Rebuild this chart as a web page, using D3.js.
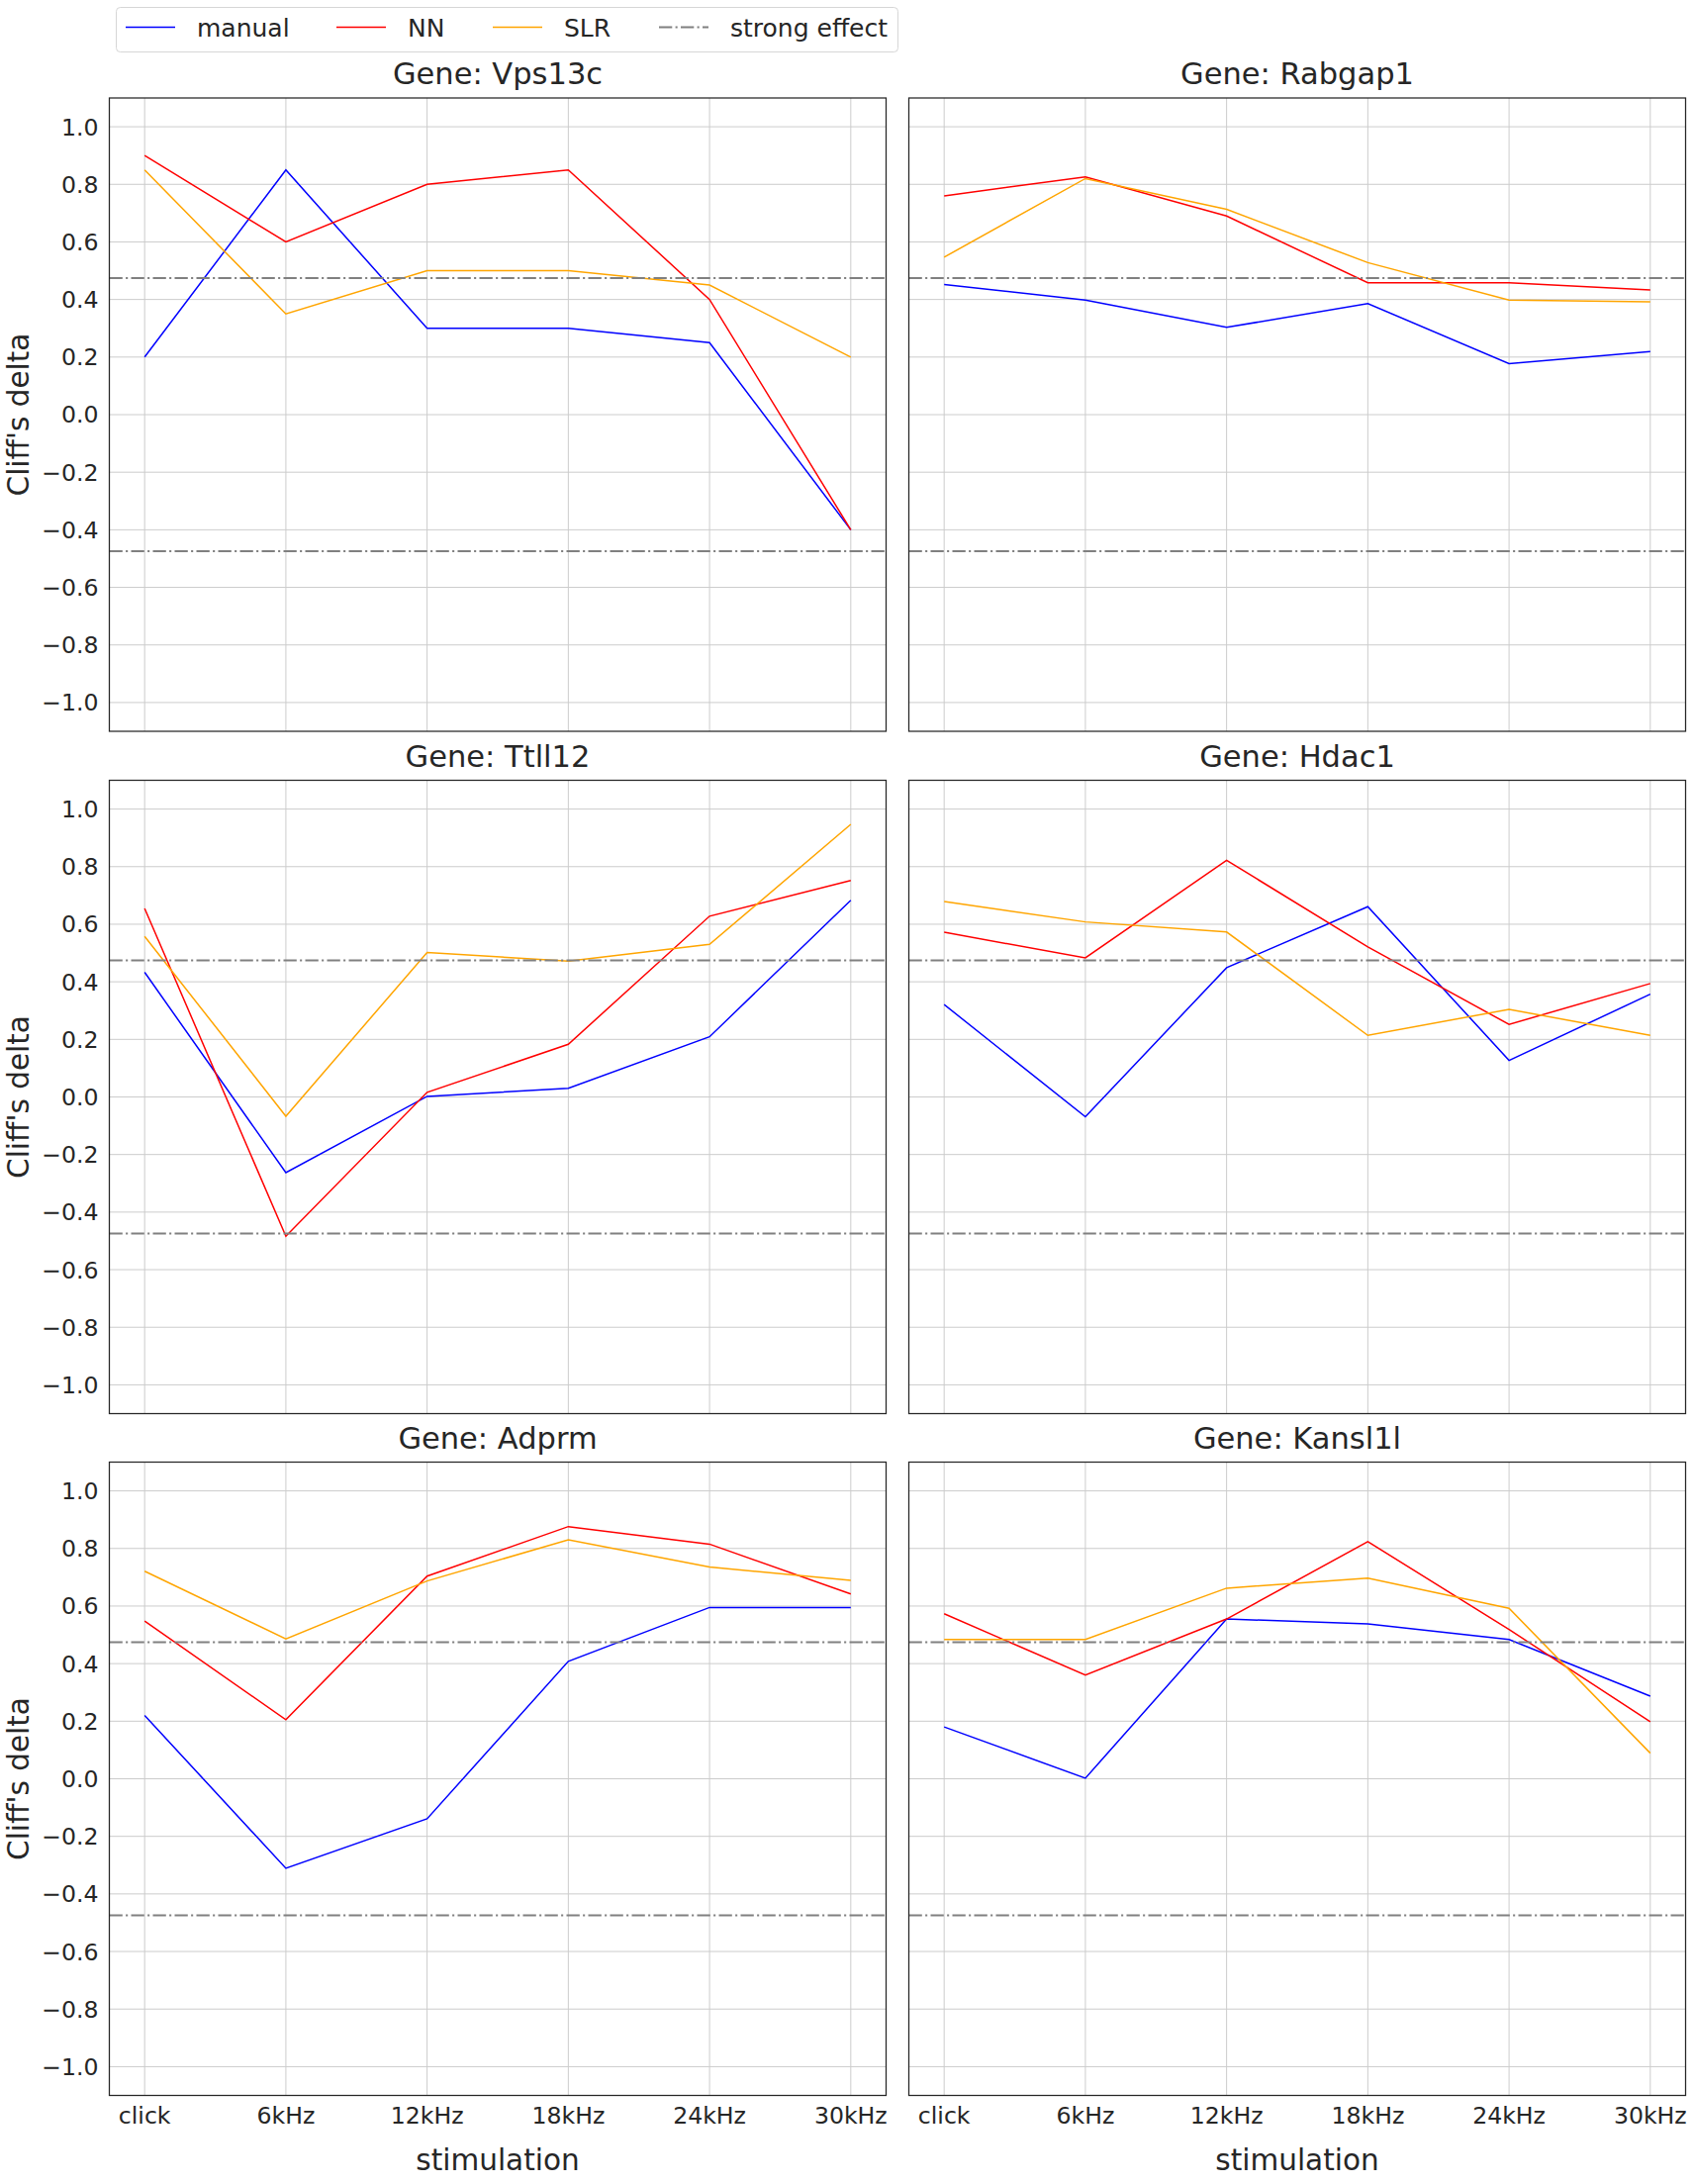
<!DOCTYPE html>
<html>
<head>
<meta charset="utf-8">
<script src="https://cdn.jsdelivr.net/npm/d3@7"></script>
<style>
  body { margin: 0; background: white; }
  text { font-family: "DejaVu Sans", sans-serif; fill: #262626; }
</style>
</head>
<body>
<script>
// Data
const stimulations = ["click", "6kHz", "12kHz", "18kHz", "24kHz", "30kHz"];
const genes = ["Vps13c", "Rabgap1", "Ttll12", "Hdac1", "Adprm", "Kansl1l"];

// one row per gene, same order as genes
const manualDelta = [
    [0.20, 0.85, 0.30, 0.30, 0.25, -0.40],
    [0.452, 0.398, 0.303, 0.386, 0.177, 0.219],
    [0.433, -0.263, 0.002, 0.030, 0.209, 0.683],
    [0.321, -0.069, 0.449, 0.661, 0.127, 0.357],
    [0.220, -0.311, -0.139, 0.408, 0.595, 0.595],
    [0.180, 0.002, 0.555, 0.538, 0.484, 0.287]
];
const nnDelta = [
    [0.90, 0.60, 0.80, 0.85, 0.40, -0.40],
    [0.760, 0.826, 0.690, 0.458, 0.458, 0.433],
    [0.655, -0.484, 0.016, 0.183, 0.628, 0.752],
    [0.572, 0.483, 0.822, 0.521, 0.252, 0.394],
    [0.548, 0.205, 0.704, 0.876, 0.815, 0.642],
    [0.573, 0.360, 0.555, 0.824, 0.519, 0.198]
];
const slrDelta = [
    [0.85, 0.35, 0.50, 0.50, 0.45, 0.20],
    [0.547, 0.820, 0.713, 0.528, 0.398, 0.392],
    [0.558, -0.067, 0.502, 0.472, 0.530, 0.947],
    [0.679, 0.608, 0.573, 0.214, 0.304, 0.214],
    [0.721, 0.486, 0.687, 0.830, 0.736, 0.689],
    [0.484, 0.484, 0.662, 0.697, 0.592, 0.089]
];
const yTicks = [-1.0, -0.8, -0.6, -0.4, -0.2, 0.0, 0.2, 0.4, 0.6, 0.8, 1.0];
const strongEffect = 0.474;

const seriesNames = ["manual", "NN", "SLR"];
const seriesColors = ["blue", "red", "orange"];
const seriesData = [manualDelta, nnDelta, slrDelta];

// Layout
const outerWidth = 1712, outerHeight = 2207;
const colLeft = [110.5, 918.5];
const rowTop = [99, 788.5, 1477.5];
const panelW = 785, panelH = 640;

const svg = d3.select("body").append("svg")
    .attr("width", outerWidth)
    .attr("height", outerHeight)
    .style("background", "white");

// Scales (same for every panel, positions are relative)
const xScale = d3.scaleLinear().domain([-0.25, 5.25]).range([0, panelW]);
const yScale = d3.scaleLinear().domain([-1.1, 1.1]).range([panelH, 0]);

const fmt = v => d3.format(".1f")(v).replace("-", "\u2212");

const line = d3.line()
    .x((d, i) => xScale(i))
    .y(d => yScale(d));

genes.forEach((gene, gi) => {
    const row = Math.floor(gi / 2), col = gi % 2;
    const g = svg.append("g")
        .attr("transform", `translate(${colLeft[col]}, ${rowTop[row]})`);

    // grid
    g.append("g").selectAll("line")
        .data(yTicks)
        .join("line")
        .attr("x1", 0).attr("x2", panelW)
        .attr("y1", d => yScale(d)).attr("y2", d => yScale(d))
        .attr("stroke", "#cccccc").attr("stroke-width", 1);
    g.append("g").selectAll("line")
        .data(stimulations)
        .join("line")
        .attr("x1", (d, i) => xScale(i)).attr("x2", (d, i) => xScale(i))
        .attr("y1", 0).attr("y2", panelH)
        .attr("stroke", "#cccccc").attr("stroke-width", 1);

    // data lines
    seriesData.forEach((s, si) => {
        g.append("path")
            .datum(s[gi])
            .attr("fill", "none")
            .attr("stroke", seriesColors[si])
            .attr("stroke-width", 1.5)
            .attr("d", line);
    });

    // strong effect thresholds
    g.selectAll(".strong")
        .data([strongEffect, -strongEffect])
        .join("line")
        .attr("class", "strong")
        .attr("x1", 0).attr("x2", panelW)
        .attr("y1", d => yScale(d)).attr("y2", d => yScale(d))
        .attr("stroke", "grey")
        .attr("stroke-width", 2)
        .attr("stroke-dasharray", "13.3,3.3,2.1,3.3");

    // frame
    g.append("rect")
        .attr("width", panelW).attr("height", panelH)
        .attr("fill", "none")
        .attr("stroke", "#262626")
        .attr("stroke-width", 1.25);

    // title
    g.append("text")
        .text("Gene: " + gene)
        .attr("x", panelW / 2).attr("y", -14)
        .attr("text-anchor", "middle")
        .style("font-size", "30.5px");

    // y ticks on left column
    if (col === 0) {
        g.append("g").selectAll("text")
            .data(yTicks)
            .join("text")
            .text(d => fmt(d))
            .attr("x", -11)
            .attr("y", d => yScale(d))
            .attr("dy", "0.36em")
            .attr("text-anchor", "end")
            .style("font-size", "23.6px");

        g.append("text")
            .text("Cliff's delta")
            .attr("text-anchor", "middle")
            .attr("transform", `translate(${29 - colLeft[0]}, ${panelH / 2}) rotate(-90)`)
            .style("font-size", "29.5px");
    }

    // x ticks on bottom row
    if (row === 2) {
        g.append("g").selectAll("text")
            .data(stimulations)
            .join("text")
            .text(d => d)
            .attr("x", (d, i) => xScale(i))
            .attr("y", panelH + 28.5)
            .attr("text-anchor", "middle")
            .style("font-size", "23.6px");

        g.append("text")
            .text("stimulation")
            .attr("x", panelW / 2)
            .attr("y", panelH + 75)
            .attr("text-anchor", "middle")
            .style("font-size", "29.5px");
    }
});

// Legend
const legend = svg.append("g");
legend.append("rect")
    .attr("x", 117.5).attr("y", 7.5)
    .attr("width", 790).attr("height", 45)
    .attr("rx", 4)
    .attr("fill", "white")
    .attr("stroke", "#d6d6d6")
    .attr("stroke-width", 1);

const legendItems = [
    {name: "manual", color: "blue", x: 127, dash: null},
    {name: "NN", color: "red", x: 340, dash: null},
    {name: "SLR", color: "orange", x: 498, dash: null},
    {name: "strong effect", color: "grey", x: 666, dash: "13.3,3.3,2.1,3.3"}
];
legendItems.forEach(d => {
    legend.append("line")
        .attr("x1", d.x).attr("x2", d.x + 50)
        .attr("y1", 27.5).attr("y2", 27.5)
        .attr("stroke", d.color)
        .attr("stroke-width", d.dash ? 2 : 1.5)
        .attr("stroke-dasharray", d.dash);
    legend.append("text")
        .text(d.name)
        .attr("x", d.x + 72)
        .attr("y", 27.5)
        .attr("dy", "0.36em")
        .style("font-size", "25px");
});
</script>
</body>
</html>
